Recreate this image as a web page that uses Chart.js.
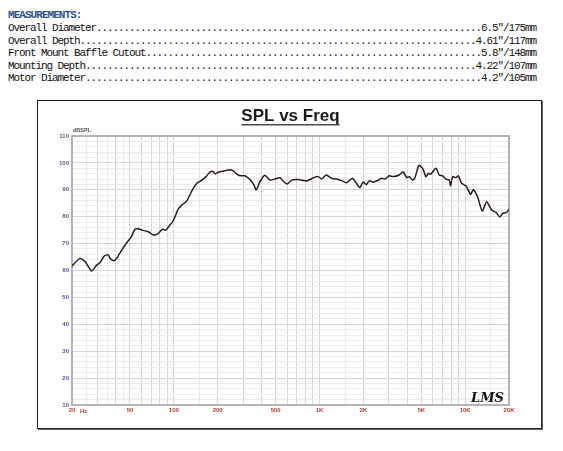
<!DOCTYPE html>
<html>
<head>
<meta charset="utf-8">
<script src="https://cdn.jsdelivr.net/npm/chart.js@4.4.1/dist/chart.umd.min.js"></script>
<style>
html, body { margin: 0; padding: 0; background: #fff; }
body { width: 563px; height: 451px; position: relative; overflow: hidden; }
#specs {
  position: absolute; left: 8px; top: 9.4px;
  font-family: "Liberation Mono", monospace; font-size: 11px;
  line-height: 12.6px; letter-spacing: -1.1px; color: #111; white-space: pre;
}
#specs .head { color: #2f4f8f; font-weight: bold; letter-spacing: -0.95px; }
#frame {
  position: absolute; left: 37px; top: 100px; width: 503px; height: 327px;
  border: 1px solid #222; box-shadow: 1px 1px 0 #666;
}
#chart { position: absolute; left: 0; top: 0; }
</style>
</head>
<body>
<div id="specs"></div>
<div id="frame"><canvas id="chart" width="503" height="327"></canvas></div>
<script>
// measurements block
var specHeading = 'MEASUREMENTS:';
var specLabels = ['Overall Diameter', 'Overall Depth', 'Front Mount Baffle Cutout', 'Mounting Depth', 'Motor Diameter'];
var specValues = ['6.5"/175mm', '4.61"/117mm', '5.8"/148mm', '4.22"/107mm', '4.2"/105mm'];

// frequency response
var freqHz = [
  20, 22.7, 24.6, 27.3, 29.5, 31.1, 33.3, 35.5, 36.5, 39,
  40.5, 43.9, 47.5, 50.8, 54.1, 57, 60.8, 66.8, 72.3, 77.5,
  83.4, 87.9, 94.1, 99.2, 107, 113, 123, 133, 144, 155,
  166, 177, 186, 192, 202, 219, 243, 256, 271, 285,
  308, 333, 355, 368, 390, 422, 457, 495, 536, 564,
  601, 644, 715, 774, 816, 931, 981, 1035, 1113, 1212,
  1311, 1420, 1537, 1683, 1889, 1997, 2094, 2202, 2340, 2532,
  2672, 2814, 3012, 3208, 3528, 3758, 3966, 4130, 4360, 4522,
  4816, 5106, 5380, 5578, 5794, 6302, 6638, 7006, 7378, 7774,
  7948, 8204, 8642, 8962, 9458, 10120, 10902, 11362, 12198, 13098,
  14042, 15196, 16260, 17320, 18076, 19254, 20000
];
var splDb = [
  61.7, 64.5, 63.3, 59.8, 62.0, 62.9, 65.4, 65.8, 64.5, 63.6,
  64.5, 67.6, 70.3, 72.3, 75.3, 75.5, 75.0, 74.4, 73.2, 73.6,
  75.3, 75.0, 76.9, 78.5, 82.7, 84.2, 85.9, 89.6, 92.4, 93.5,
  94.8, 96.6, 96.8, 95.9, 96.5, 97.0, 97.5, 97.0, 95.8, 95.2,
  95.2, 93.8, 91.8, 89.9, 93.0, 95.4, 93.6, 94.0, 94.5, 93.2,
  92.2, 93.6, 93.8, 93.5, 93.3, 94.7, 94.9, 94.0, 95.5, 94.3,
  94.0, 93.4, 92.6, 94.3, 90.8, 92.9, 91.9, 93.4, 92.8, 93.6,
  94.3, 94.0, 95.2, 94.9, 95.5, 96.7, 94.5, 94.9, 93.6, 94.5,
  99.1, 98.0, 94.9, 96.1, 95.8, 98.0, 95.5, 95.2, 94.0, 93.6,
  91.5, 94.9, 94.5, 95.2, 92.4, 91.5, 88.3, 90.0, 87.2, 82.1,
  85.6, 82.5, 81.6, 79.9, 81.2, 81.6, 82.9
];

// axes
var xGridHz = [20, 30, 40, 50, 60, 70, 80, 90, 100, 200, 300, 400, 500, 600, 700, 800, 900,
  1000, 2000, 3000, 4000, 5000, 6000, 7000, 8000, 9000, 10000, 20000];
var xMinorGridHz = [25, 35, 45, 150, 1500, 15000];
var xLabelHz = [20, 50, 100, 200, 500, 1000, 2000, 5000, 10000, 20000];
var xLabelText = ['20', '50', '100', '200', '500', '1K', '2K', '5K', '10K', '20K'];
var yLabelDb = [10, 20, 30, 40, 50, 60, 70, 80, 90, 100, 110];
var titleText = 'SPL vs Freq';
var xUnit = 'Hz';
var yUnit = 'dBSPL';
var logoText = 'LMS';

var specBox = document.getElementById('specs');
var rows = ['<span class="head">' + specHeading + '</span>'];
for (var i = 0; i < specLabels.length; i++) {
  var dots = 96 - specLabels[i].length - specValues[i].length;
  rows.push(specLabels[i] + '.'.repeat(dots) + specValues[i]);
}
specBox.innerHTML = rows.join('\n');

var sans = '"Liberation Sans", Arial, sans-serif';
Chart.defaults.font.family = sans;

var frameDecor = {
  id: 'frameDecor',
  beforeDatasetsDraw: function(chart) {
    var c = chart.ctx, a = chart.chartArea;
    c.save();
    c.strokeStyle = '#b4b4b4';
    c.lineWidth = 2;
    c.strokeRect(a.left, a.top, a.right - a.left, a.bottom - a.top);
    c.restore();
  },
  afterDraw: function(chart) {
    var c = chart.ctx, a = chart.chartArea, tb = chart.titleBlock;
    c.save();
    // title underline
    c.font = 'bold 17px ' + sans;
    var w = c.measureText(titleText).width;
    var cx = (tb.left + tb.right) / 2;
    var uy = tb.top + 5 + 10.2 + 8.5;
    c.strokeStyle = '#4a4a4a';
    c.lineWidth = 1.5;
    c.beginPath();
    c.moveTo(cx - w / 2, uy);
    c.lineTo(cx + w / 2, uy);
    c.stroke();
    // unit labels
    c.textBaseline = 'middle';
    c.textAlign = 'left';
    c.font = 'bold 5.5px ' + sans;
    c.fillStyle = '#555';
    c.fillText(yUnit, a.left + 1, a.top - 6);
    c.font = 'bold 6px ' + sans;
    c.fillStyle = '#a5403c';
    c.fillText(xUnit, chart.scales.x.getPixelForValue(20) + 8, a.bottom + 6);
    // logo
    c.font = 'italic bold 13px "DejaVu Serif", serif';
    c.fillStyle = '#111';
    c.textAlign = 'right';
    c.textBaseline = 'alphabetic';
    c.fillText(logoText, a.right - 5, a.bottom - 3);
    c.restore();
  }
};

var ctx = document.getElementById('chart').getContext('2d');
var myChart = new Chart(ctx, {
  type: 'line',
  data: {
    datasets: [{
      data: freqHz.map(function(f, i) { return { x: f, y: splDb[i] }; }),
      borderColor: '#2a1c1c',
      borderWidth: 1.5,
      pointRadius: 0,
      tension: 0.2,
      fill: false
    }]
  },
  options: {
    responsive: false,
    animation: false,
    layout: { padding: { left: 0, right: 32, top: 0, bottom: 0 } },
    plugins: {
      legend: { display: false },
      tooltip: { enabled: false },
      title: {
        display: true,
        text: titleText,
        fullSize: false,
        color: '#1a1a1a',
        font: { size: 17, weight: 'bold', lineHeight: 1.2 },
        padding: { top: 5, bottom: 9.6 }
      }
    },
    scales: {
      x: {
        type: 'logarithmic',
        min: 20,
        max: 20000,
        afterBuildTicks: function(s) {
          s.ticks = xGridHz.concat(xMinorGridHz).sort(function(a, b) { return a - b; })
            .map(function(v) { return { value: v }; });
        },
        afterFit: function(s) { s.height = 23; },
        border: { display: false },
        grid: {
          drawTicks: false,
          color: function(c) { return xMinorGridHz.indexOf(c.tick.value) >= 0 ? '#e8e8e8' : '#d6d6d6'; }
        },
        ticks: {
          autoSkip: false,
          maxRotation: 0,
          padding: 2,
          color: '#a5403c',
          font: { size: 6, weight: 'bold' },
          callback: function(v) {
            var k = xLabelHz.indexOf(v);
            return k < 0 ? '' : xLabelText[k];
          }
        }
      },
      y: {
        min: 10,
        max: 110,
        afterFit: function(s) { s.width = 34; },
        border: { display: false },
        grid: {
          drawTicks: false,
          color: function(c) { return Math.round(c.tick.value) % 10 === 0 ? '#d6d6d6' : '#ededed'; }
        },
        ticks: {
          stepSize: 2,
          autoSkip: false,
          padding: 3,
          color: '#4b5f8c',
          font: { size: 6, weight: 'bold' },
          callback: function(v) { return yLabelDb.indexOf(Math.round(v)) >= 0 && Math.abs(v - Math.round(v)) < 1e-6 ? String(Math.round(v)) : ''; }
        }
      }
    }
  },
  plugins: [frameDecor]
});
</script>
</body>
</html>
